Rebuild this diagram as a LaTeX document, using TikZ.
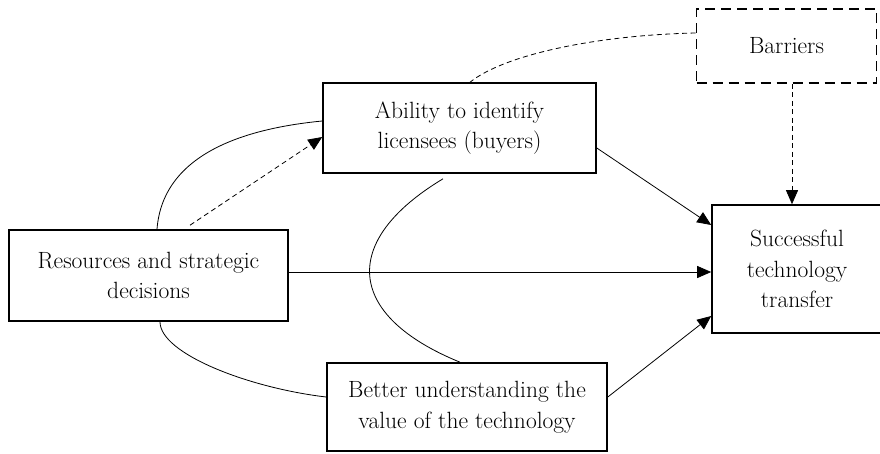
\documentclass[tikz,border=0pt]{standalone}
\usetikzlibrary{arrows.meta}
\begin{document}
\begin{tikzpicture}[x=1pt,y=-1pt,
  box/.style={draw,line width=1.6pt,align=center,inner sep=0pt,
    font=\fontsize{23.5}{30.5}\selectfont},
  dbox/.style={box,dash pattern=on 10pt off 6pt},
  conn/.style={line width=0.8pt},
  dconn/.style={conn,dash pattern=on 5pt off 3.5pt},
  tip/.style={-{Triangle[length=14pt,width=12pt]}}]
\useasboundingbox (0,0) rectangle (880,453);
\node[box,minimum width=279pt,minimum height=91pt] (res) at (148.5,275.5) {Resources and strategic\\decisions};
\node[box,minimum width=273pt,minimum height=90pt] (abil) at (459.5,128) {Ability to identify\\licensees (buyers)};
\node[dbox,minimum width=180pt,minimum height=74pt] (bar) at (786.5,46) {Barriers};
\node[box,minimum width=170pt,minimum height=128pt] (succ) at (797,269) {Successful\\technology\\transfer};
\node[box,minimum width=280pt,minimum height=88pt] (better) at (467,407) {Better understanding the\\value of the technology};
% straight arrows
\draw[conn,tip] ([yshift=3.5pt]res.east) -- ([yshift=3.5pt]res.east -| succ.west);
\draw[conn,tip] ([yshift=-20pt]abil.east) -- ([yshift=44pt]succ.west);
\draw[conn,tip] ([yshift=10pt]better.east) -- ([yshift=-47pt]succ.west);
\draw[dconn,tip] ([xshift=5.5pt]bar.south) -- ([xshift=5.5pt]bar.south |- succ.north);
\draw[dconn,tip] ([xshift=41.5pt,yshift=4pt]res.north) -- ([yshift=-9pt]abil.west);
% curves
\draw[dconn] ([yshift=13pt]bar.west) .. controls +(-97,2) and +(35,-28) .. ([xshift=10.5pt]abil.north);
\draw[conn] ([xshift=8.5pt]res.north) .. controls +(6,-78) and +(-72,7) .. ([yshift=7pt]abil.west);
\draw[conn] ([xshift=11.5pt]res.south) .. controls +(0,32) and +(-77,-9) .. ([yshift=10pt]better.west);
\draw[conn] ([xshift=-16.5pt,yshift=-5pt]abil.south) .. controls +(-103,62) and +(-115,-47) .. ([xshift=-7pt]better.north);
\end{tikzpicture}
\end{document}
